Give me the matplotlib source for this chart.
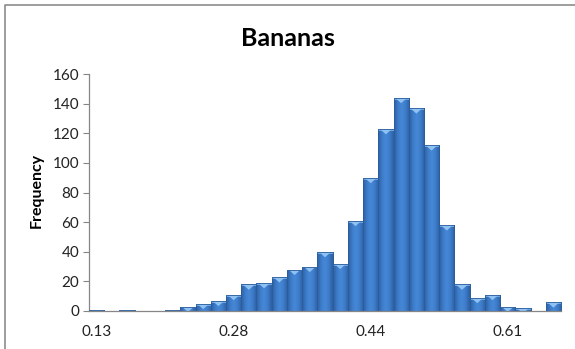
import numpy as np
import matplotlib
matplotlib.use("Agg")
import matplotlib.pyplot as plt
from matplotlib.patches import Polygon
from matplotlib.colors import LinearSegmentedColormap

plt.rcParams["font.family"] = ["Lato", "DejaVu Sans"]

# Histogram counts per bin (31 bins)
frequency = [1, 0, 1, 0, 0, 1, 3, 5, 7, 11, 18, 19, 23, 28, 30, 40, 32,
             61, 90, 123, 144, 137, 112, 58, 18, 9, 11, 3, 2, 0, 6]
tick_bins = [0, 9, 18, 27]
tick_labels = ["0.13", "0.28", "0.44", "0.61"]
y_ticks = [0, 20, 40, 60, 80, 100, 120, 140, 160]

fig = plt.figure(figsize=(5.75, 3.49), dpi=100)
fig.patch.set_facecolor("white")

# chart frame
frame = fig.add_axes([0, 0, 1, 1], zorder=-1)
frame.set_xlim(0, 575)
frame.set_ylim(349, 0)
frame.axis("off")
frame.plot([5, 5, 575], [349, 5, 5], color="#8c8c8c", lw=1.2)

ax = fig.add_axes([89 / 575, 1 - 311 / 349, (561 - 89) / 575, (311 - 74) / 349])
x = np.arange(len(frequency))
ax.set_xlim(-0.5, len(frequency) - 0.5)
ax.set_ylim(0, 160)

bars = ax.bar(x, frequency, width=1.0, color="#3f7ecf",
              edgecolor="#2c5c99", linewidth=0.6, zorder=2)

# horizontal shading across each bar (dark edges, brighter middle)
shade = LinearSegmentedColormap.from_list(
    "shade", ["#2d5e9e", "#3d7cca", "#4688d7", "#3d7cca", "#2d5e9e"])
grad = np.linspace(0, 1, 64).reshape(1, -1)
px_per_unit = 237 / 160
bevel = 5.5 / px_per_unit
for bar, h in zip(bars, frequency):
    if h <= 0:
        continue
    x0 = bar.get_x()
    w = bar.get_width()
    im = ax.imshow(grad, cmap=shade, aspect="auto",
                   extent=(x0, x0 + w, 0, h), zorder=2.5, interpolation="bicubic")
    im.set_clip_path(bar)
    # lighter top bevel
    top = Polygon([[x0, h], [x0 + w, h], [x0 + w, h - bevel * 0.35], [x0, h - bevel * 0.35]],
                  closed=True, facecolor="#6aa6e6", edgecolor="none", zorder=2.6)
    ax.add_patch(top)
    top.set_clip_path(bar)
    tri = Polygon([[x0 + 0.1, h], [x0 + w - 0.1, h], [x0 + w / 2, h - bevel]],
                  closed=True, facecolor="#8fc2f3", edgecolor="none", zorder=2.7)
    ax.add_patch(tri)
    tri.set_clip_path(bar)
    ax.add_patch(Polygon([[x0, 0], [x0, h], [x0 + w, h], [x0 + w, 0]], closed=True,
                         facecolor="none", edgecolor="#2c5c99", linewidth=0.6, zorder=3))

ax.set_yticks(y_ticks)
ax.set_xticks(tick_bins)
ax.set_xticklabels(tick_labels)
ax.tick_params(axis="y", length=4, width=0.8, color="#868686", pad=3,
               labelsize=11, labelcolor="#222222")
ax.tick_params(axis="x", length=0, pad=10, labelsize=11, labelcolor="#222222")

for side in ("top", "right"):
    ax.spines[side].set_visible(False)
for side in ("left", "bottom"):
    ax.spines[side].set_color("#868686")
    ax.spines[side].set_linewidth(0.9)
ax.spines["bottom"].set_zorder(4)

fig.text(288 / 575, 1 - 38 / 349, "Bananas", ha="center", va="center",
         fontsize=18, fontweight="bold", color="black")
fig.text(37 / 575, 1 - 190 / 349, "Frequency", ha="center", va="center",
         rotation=90, fontsize=11.5, fontweight="bold", color="black")

fig.savefig("out.png", dpi=100, facecolor="white")
